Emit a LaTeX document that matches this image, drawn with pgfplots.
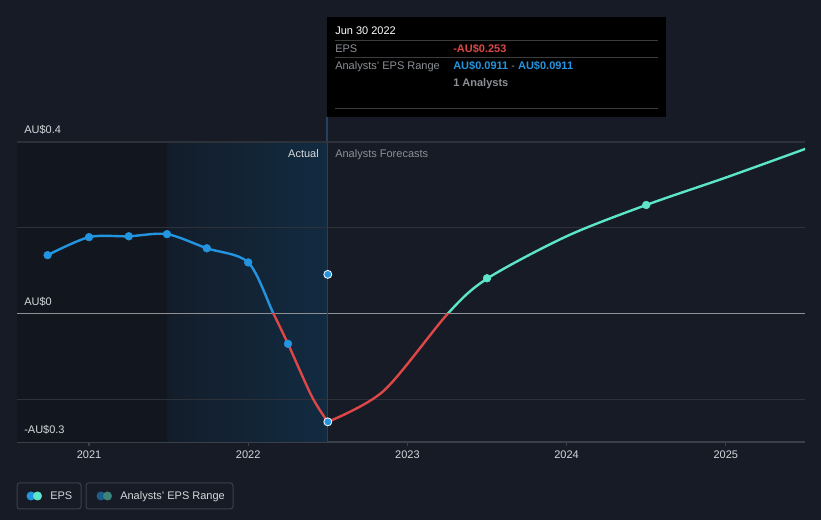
\documentclass[border=0pt]{standalone}
\usepackage{pgfplots}
\pgfplotsset{compat=1.18}
\usepackage{fontspec}
\setmainfont{Liberation Sans}
\definecolor{bg}{HTML}{161B25}
\definecolor{darkreg}{HTML}{12161E}
\definecolor{hlA}{HTML}{131D2A}
\definecolor{hlB}{HTML}{122B41}
\definecolor{gridc}{HTML}{2C313A}
\definecolor{zeroc}{HTML}{8E9095}
\definecolor{epsblue}{HTML}{2394DF}
\definecolor{epsred}{HTML}{DD4747}
\definecolor{epsteal}{HTML}{5CE5C8}
\definecolor{lbl}{HTML}{D6D8DB}
\definecolor{muted}{HTML}{8C9096}
\definecolor{sepc}{HTML}{3C3C3C}
\definecolor{boxc}{HTML}{3A3F48}
\definecolor{vline}{HTML}{24425F}
\definecolor{legA}{HTML}{1D5D8C}
\definecolor{legB}{HTML}{3A8578}
\pgfplotstableread{
x y
2020.74 0.136
2021.00 0.178
2021.25 0.180
2021.49 0.185
2021.74 0.152
2022.00 0.119
2022.158 0.000
2022.25 -0.071
2022.40 -0.194
2022.50 -0.253
}\actual
\pgfplotstableread{
x y
2022.500 -0.253
2022.850 -0.181
2023.255 0.000
2023.500 0.081
2024.000 0.180
2024.500 0.253
2025.000 0.317
2025.500 0.384
}\forecast
\pgfplotstableread{
x y
2023.50 0.082
2024.50 0.253
2025.50 0.384
}\fcmarks
\pgfplotstableread{
x y
2020.74 0.136
2021.00 0.178
2021.25 0.180
2021.49 0.185
2021.74 0.152
2022.00 0.119
2022.25 -0.071
}\actmarks
\begin{document}
\begin{tikzpicture}[font=\fontsize{8.25}{10}\selectfont]
\begin{scope}[x=0.75pt,y=0.75pt]
\fill[bg] (0,0) rectangle (821,520);
\draw[vline, line width=0.8pt] (327,378) -- (327,403);
\end{scope}
\begin{axis}[at={(12.75pt,58.5pt)}, anchor=south west, scale only axis,
  width=591pt, height=225pt,
  xmin=2020.5477, xmax=2025.4975, ymin=-0.3, ymax=0.4,
  axis x line*=bottom, axis y line=none,
  x axis line style={boxc, line width=0.8pt, -},
  xtick={2021,2022,2023,2024,2025},
  tick align=outside, major tick length=3pt,
  xtick style={boxc, line width=0.8pt},
  x tick label style={lbl, font=\fontsize{8.25}{10}\selectfont},
  /pgf/number format/1000 sep={},
  /pgf/number format/assume math mode=true,
  clip=true]
\fill[darkreg] (axis cs:2020.5477,-0.3) rectangle (axis cs:2021.49,0.4);
\fill[left color=hlA,right color=hlB] (axis cs:2021.49,-0.3) rectangle (axis cs:2022.5,0.4);
\draw[gridc, line width=0.8pt] (axis cs:2020.5477,0.4) -- (axis cs:2025.4975,0.4);
\draw[gridc, line width=0.8pt] (axis cs:2020.5477,0.2) -- (axis cs:2025.4975,0.2);
\draw[gridc, line width=0.8pt] (axis cs:2020.5477,-0.2) -- (axis cs:2025.4975,-0.2);
\draw[zeroc, line width=1.1pt] (axis cs:2020.5477,0) -- (axis cs:2025.4975,0);
\draw[vline, line width=0.8pt] (axis cs:2022.5,-0.3) -- (axis cs:2022.5,0.4);
\begin{scope}
\clip (axis cs:2020.5477,0) rectangle (axis cs:2025.4975,0.4);
\addplot[epsblue, line width=1.8pt, smooth, no marks] table[x=x,y=y]{\actual};
\addplot[epsteal, line width=1.8pt, smooth, no marks] table[x=x,y=y]{\forecast};
\end{scope}
\begin{scope}
\clip (axis cs:2020.5477,0) rectangle (axis cs:2025.4975,-0.3);
\addplot[epsred, line width=1.8pt, smooth, no marks] table[x=x,y=y]{\actual};
\addplot[epsred, line width=1.8pt, smooth, no marks] table[x=x,y=y]{\forecast};
\end{scope}
\addplot[only marks, mark=*, mark size=2.9pt, epsblue] table[x=x,y=y]{\actmarks};
\addplot[only marks, mark=*, mark size=2.9pt, epsteal] table[x=x,y=y]{\fcmarks};
\addplot[only marks, mark=*, mark size=3pt, draw=white, fill=epsblue, line width=0.6pt] coordinates {(2022.5,-0.253) (2022.5,0.0911)};
\end{axis}
\begin{scope}[x=0.75pt,y=0.75pt]
% y labels
\node[anchor=base west, lbl, inner sep=0] at (24,386) {AU\$0.4};
\node[anchor=base west, lbl, inner sep=0] at (24,214) {AU\$0};
\node[anchor=base west, lbl, inner sep=0] at (24,86) {-AU\$0.3};
\node[anchor=base east, lbl, inner sep=0] at (319,362) {Actual};
\node[anchor=base west, muted, inner sep=0] at (335,362) {Analysts Forecasts};
% tooltip
\fill[black] (327,403) rectangle (666,503);
\node[anchor=base west, white, inner sep=0] at (335,485) {Jun 30 2022};
\draw[sepc, line width=0.75pt] (335,479) -- (658,479);
\node[anchor=base west, muted, inner sep=0] at (335,467) {EPS};
\node[anchor=base west, epsred, inner sep=0] at (453,467) {\bfseries -AU\$0.253};
\draw[sepc, line width=0.75pt] (335,462) -- (658,462);
\node[anchor=base west, muted, inner sep=0] at (335,450) {Analysts' EPS Range};
\node[anchor=base west, inner sep=0] at (453,450) {\textcolor{epsblue}{\bfseries AU\$0.0911}\textcolor{muted}{\ -\ }\textcolor{epsblue}{\bfseries AU\$0.0911}};
\node[anchor=base west, muted, inner sep=0] at (453,433) {\bfseries 1 Analysts};
\draw[sepc, line width=0.75pt] (335,411) -- (658,411);
% legend
\draw[boxc, line width=0.75pt, rounded corners=2pt] (17,11) rectangle (81,37);
\fill[epsblue] (31,24) circle (4.5);
\fill[epsteal] (37.5,24) circle (4.5);
\node[anchor=base west, lbl, inner sep=0] at (50,20) {EPS};
\draw[boxc, line width=0.75pt, rounded corners=2pt] (86,11) rectangle (233,37);
\fill[legA] (101,24) circle (4.5);
\fill[legB] (107.5,24) circle (4.5);
\node[anchor=base west, lbl, inner sep=0] at (120,20) {Analysts' EPS Range};
\end{scope}
\end{tikzpicture}
\end{document}
